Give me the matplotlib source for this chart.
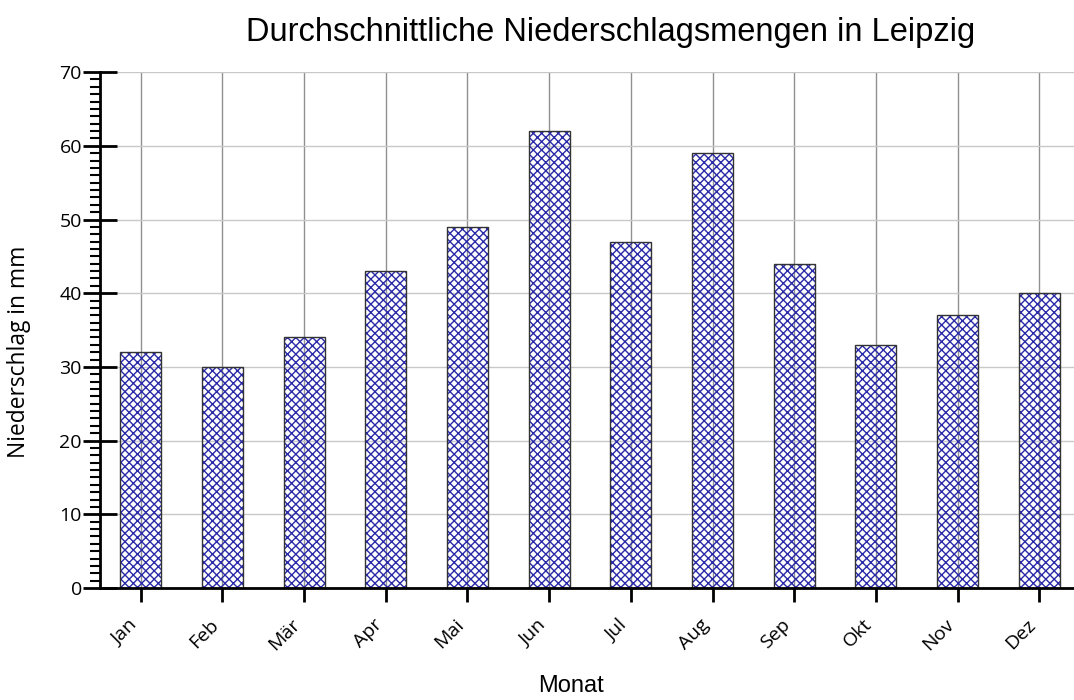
import matplotlib
matplotlib.use("Agg")
import matplotlib.pyplot as plt
import matplotlib.transforms as mtransforms
from matplotlib.ticker import MultipleLocator

months = ["Jan", "Feb", "Mär", "Apr", "Mai", "Jun", "Jul", "Aug", "Sep", "Okt", "Nov", "Dez"]
rain_mm = [32, 30, 34, 43, 49, 62, 47, 59, 44, 33, 37, 40]

plt.rcParams['font.family'] = ['Liberation Sans', 'DejaVu Sans']
plt.rcParams['hatch.linewidth'] = 1.0

fig = plt.figure(figsize=(10.74, 7.0), dpi=100)
ax = fig.add_axes([0.0931, 0.16, 0.9125, 0.737])

x = list(range(len(months)))
ax.bar(x, rain_mm, width=0.5, facecolor='none', edgecolor='#2a2aa8', hatch='xxxx', linewidth=0, zorder=1)
ax.bar(x, rain_mm, width=0.5, facecolor='none', edgecolor='#333333', linewidth=1.0, zorder=2)

tick_font = ['Open Sans', 'DejaVu Sans']
ax.set_xlim(-0.5, 11.5)
ax.set_ylim(0, 70)
ax.set_xticks(x)
ax.set_xticklabels(months, rotation=45, fontsize=14, family=tick_font, ha='right')
offset = mtransforms.ScaledTranslation(4 / 100, 0, fig.dpi_scale_trans)
for lab in ax.get_xticklabels():
    lab.set_transform(lab.get_transform() + offset)
ax.yaxis.set_major_locator(MultipleLocator(10))
ax.yaxis.set_minor_locator(MultipleLocator(1))
for lab in ax.get_yticklabels():
    lab.set_family(tick_font)
ax.tick_params(axis='y', which='major', direction='inout', length=24, width=2, labelsize=14, pad=1)
ax.tick_params(axis='y', which='minor', direction='out', length=7, width=1.5)
ax.tick_params(axis='x', which='major', direction='out', length=10, width=2, pad=10)

ax.set_axisbelow(True)
ax.xaxis.grid(True, color='#909090', linewidth=1.0, zorder=0)
ax.yaxis.grid(True, color='#c8c8c8', linewidth=1.0, zorder=0)

for s in ['top', 'right']:
    ax.spines[s].set_visible(False)
ax.spines['left'].set_linewidth(2)
ax.spines['bottom'].set_linewidth(2)

ax.set_ylabel("Niederschlag in mm", fontsize=16.4, family=tick_font, va='center', ha='center')
ax.yaxis.set_label_coords(-0.083, 0.457)
ax.set_xlabel("Monat", fontsize=17, va='center', ha='center')
ax.xaxis.set_label_coords(0.481, -0.19)
fig.text(0.569, 0.953, "Durchschnittliche Niederschlagsmengen in Leipzig", ha='center', va='center', fontsize=23.5)

fig.savefig("out.png", dpi=100)
